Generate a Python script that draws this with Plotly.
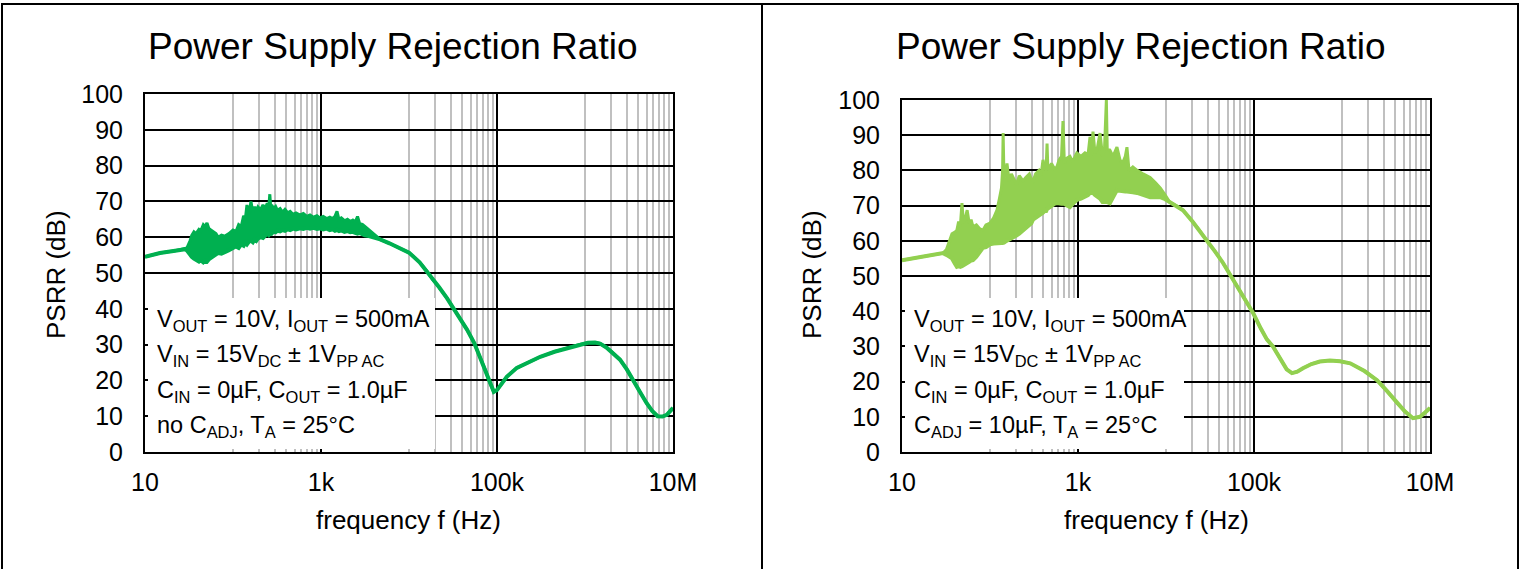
import plotly.graph_objects as go

W, H = 1521, 569

# ---- left chart (no C_ADJ): lower / upper edge of the noisy band, Hz / dB ----
freq_a = [10, 14.8, 22, 28.5, 30, 32.5, 34, 36, 38, 41, 43, 46, 48, 50.6, 53, 56, 60, 64,
          68, 74, 81, 90, 100, 108, 116, 124, 132, 138, 144, 152, 160, 168, 176, 184,
          192, 205, 219, 232, 245, 255, 262, 268, 275, 290, 305, 320, 343, 365, 390,
          420, 446, 480, 520, 577, 630, 690, 750, 820, 900, 973, 1060, 1160, 1260,
          1350, 1440, 1520, 1600, 1700, 1850, 2000, 2150, 2300, 2450, 2600, 2750,
          2950, 3150, 3500, 3900, 4700, 6000, 7900, 10000, 13200, 16000, 18500,
          22000, 27000, 36000, 45600, 55000, 64000, 74000, 83000, 92000, 100000,
          107000, 129000, 168000, 230000, 310000, 450000, 627000, 850000, 1080000,
          1300000, 1480000, 1750000, 2080000, 2500000, 3000000, 3500000, 4200000,
          5000000, 5800000, 6700000, 7600000, 8500000, 9300000, 10000000]
psrr_a_lo = [54.5, 55.6, 56.2, 56.6, 56.3, 55, 54.5, 54, 53.6, 53.2, 53.6, 53, 53.4, 53.2, 53.8, 54.2, 54.8, 55,
             55.6, 55.4, 56, 56.4, 57, 57.4, 57, 58, 57.6, 58.5, 58, 58.8, 59, 58.6, 59.4, 59,
             59.6, 60, 59.8, 60.4, 61, 60.6, 61, 61.2, 61, 61.6, 61.4, 61.8, 61.6, 62, 61.8,
             62.2, 62, 62.4, 62.2, 62.5, 62.3, 62.6, 62.4, 62.6, 62.3, 62.5, 62.2, 62.4, 62,
             62.2, 61.8, 62, 61.7, 61.9, 61.5, 61.7, 61.4, 61.5, 61.2, 61, 61.2,
             60.8, 60.5, 60.3, 60, 59.4, 58.3, 57, 55.7, 53, 50.5, 48.2,
             46, 43, 38.2, 34.2, 30.5, 26.6, 22.8, 19.3, 16.8, 17.3,
             18.2, 21, 23.5, 25.2, 26.6, 28, 29, 30, 30.5,
             30.6, 30.3, 29.2, 27.7, 25.8, 23, 20, 16.8,
             13.7, 11.5, 10, 9.9, 10.4, 11.4, 12.3]
psrr_a_hi = [54.5, 55.6, 56.2, 56.8, 57, 59, 60.5, 61.5, 61, 62.2, 61.8, 63.5, 63, 64, 62.5, 62, 61.5, 61,
             60, 60.6, 60.3, 61, 62, 61.6, 63.5, 63, 66, 65, 69, 66.5, 70, 67, 68.5, 67.5,
             68.5, 67.6, 69, 68, 69.5, 68.4, 72, 68.5, 69, 68, 68.6, 67.5, 68, 67, 67.8,
             66.8, 67.2, 66.4, 66.8, 66.2, 66.6, 65.8, 66.2, 65.6, 66, 65.4, 65.8, 65.2, 65.6,
             65.2, 65.8, 67.2, 65, 65.4, 64.6, 65, 64.4, 64.8, 64.2, 65.8, 63.8,
             63.6, 63, 62, 61, 59.4, 58.3, 57, 55.7, 53, 50.5, 48.2,
             46, 43, 38.2, 34.2, 30.5, 26.6, 22.8, 19.3, 16.8, 17.3,
             18.2, 21, 23.5, 25.2, 26.6, 28, 29, 30, 30.5,
             30.6, 30.3, 29.2, 27.7, 25.8, 23, 20, 16.8,
             13.7, 11.5, 10, 9.9, 10.4, 11.4, 12.3]

# ---- right chart (C_ADJ = 10uF) ----
freq_b = [10, 20, 29.3, 32, 35, 37, 40, 42, 44, 46, 48, 50, 52, 55, 58, 61, 64, 70, 76, 83,
          90, 100, 110, 120, 128, 135, 139, 141, 144, 150, 156, 165, 175, 182, 200, 215,
          237, 255, 280, 295, 308, 330, 360, 380, 400, 420, 435, 445, 455, 500, 540,
          575, 610, 650, 675, 700, 750, 810, 870, 970, 1080, 1200, 1300, 1370, 1420,
          1480, 1560, 1650, 1780, 1900, 2000, 2100, 2150, 2300, 2500, 2770, 3000,
          3200, 3450, 3600, 3800, 4200, 4700, 5500, 6600, 7600, 8600, 9800, 11000,
          13000, 15600, 20000, 24000, 29000, 36000, 44500, 57000, 70000, 90000,
          98000, 120000, 140000, 164000, 200000, 235000, 270000, 310000, 360000,
          450000, 560000, 730000, 950000, 1240000, 1800000, 2500000, 3200000,
          4200000, 5200000, 6400000, 7700000, 8800000, 10000000]
psrr_b_lo = [54.5, 55.7, 56.5, 56, 55.4, 55, 53.5, 52.6, 52.8, 52.6, 52.8, 53, 53.2, 53.7, 54, 54.4, 54.5, 55.5, 56.5, 58,
             58.2, 59, 59.2, 59.4, 59.4, 59.4, 59.4, 59.4, 59.5, 59.8, 60, 60.5, 60.8, 61, 61.5, 62,
             63, 63.5, 64.5, 65, 66, 66.5, 67, 67.5, 68, 68.5, 68.5, 69, 69.2, 70, 70.5,
             70.7, 70.5, 70.5, 70.5, 70.5, 70, 69.6, 70.5, 71.6, 72, 72.5, 73, 73.6, 73.6,
             73.6, 73, 72.5, 72, 71, 71, 71, 71, 70.7, 72.5, 74.4, 74.2,
             74, 74, 74, 74, 73.8, 73.6, 73, 72.4, 72.4, 72.4, 71.8, 71,
             70, 68.7, 65.5, 63, 60, 57, 53.7, 49, 45.5, 41,
             39.4, 35, 32, 30, 26.5, 23.5, 22.4, 22.8, 23.8,
             25, 25.7, 26, 25.8, 25.2, 23, 20.4, 17.5,
             13.9, 11.5, 9.6, 10, 11.2, 12.5]
psrr_b_hi = [54.5, 55.7, 56.5, 57.5, 60, 62, 62.5, 63, 65.5, 64, 70.7, 65, 66, 68.7, 65, 66, 64, 64.5, 63.5, 63,
             64.5, 65, 66.5, 68.7, 72, 75, 80, 90.6, 79, 78, 82, 77, 79, 78, 76, 78.5,
             77, 78, 79, 77.5, 77, 79, 80, 78.5, 83, 80, 81, 87.6, 80, 82, 80.5,
             81, 83, 84, 94, 82, 83.5, 84, 82.5, 85, 84, 85, 84.5, 89.5, 84,
             91, 85, 86, 90.6, 84, 86, 100, 86, 85.8, 84, 86.6, 83,
             82, 84, 86.6, 80, 81, 80, 79, 78, 76.5, 75, 73, 71,
             70, 68.7, 65.5, 63, 60, 57, 53.7, 49, 45.5, 41,
             39.4, 35, 32, 30, 26.5, 23.5, 22.4, 22.8, 23.8,
             25, 25.7, 26, 25.8, 25.2, 23, 20.4, 17.5,
             13.9, 11.5, 9.6, 10, 11.2, 12.5]

notes_a = ["V<sub>OUT</sub> = 10V, I<sub>OUT</sub> = 500mA",
           "V<sub>IN</sub> = 15V<sub>DC</sub> ± 1V<sub>PP AC</sub>",
           "C<sub>IN</sub> = 0µF, C<sub>OUT</sub> = 1.0µF",
           "no C<sub>ADJ</sub>, T<sub>A</sub> = 25°C"]
notes_b = notes_a[:3] + ["C<sub>ADJ</sub> = 10µF, T<sub>A</sub> = 25°C"]

FONT = "Liberation Sans, Arial, sans-serif"
GREEN_A = "#00b050"
GREEN_B = "#92d050"

# grey lines at 100..900, 10k..90k, 1M..9M (Excel log base-100 minor grid)
minor_vals = [m * 10 ** e for e in (2, 4, 6) for m in range(1, 10)]


def px_x(x):
    return x / W


def px_y(y):
    return 1 - y / H


fig = go.Figure()

for i, (f, lo, hi, col) in enumerate([(freq_a, psrr_a_lo, psrr_a_hi, GREEN_A),
                                      (freq_b, psrr_b_lo, psrr_b_hi, GREEN_B)]):
    ax = "x" if i == 0 else "x2"
    ay = "y" if i == 0 else "y2"
    fig.add_trace(go.Scatter(x=f, y=lo, mode="lines", line=dict(color=col, width=4),
                             xaxis=ax, yaxis=ay, showlegend=False, hoverinfo="skip"))
    fig.add_trace(go.Scatter(x=f, y=hi, mode="lines", line=dict(color=col, width=3),
                             fill="tonexty", fillcolor=col,
                             xaxis=ax, yaxis=ay, showlegend=False, hoverinfo="skip"))

xcommon = dict(
    type="log", range=[1, 7],
    tickvals=[10, 1e3, 1e5, 1e7], ticktext=["10", "1k", "100k", "10M"],
    showgrid=True, gridcolor="black", gridwidth=2,
    minor=dict(tickvals=minor_vals, showgrid=True, gridcolor="#c0c0c0", gridwidth=2),
    showline=True, linecolor="black", linewidth=2, mirror=True,
    ticks="", ticklabelstandoff=7, automargin=False,
    tickfont=dict(family=FONT, size=25, color="black"),
    zeroline=False,
)
ycommon = dict(
    range=[0, 100], dtick=10,
    showgrid=True, gridcolor="black", gridwidth=2,
    showline=True, linecolor="black", linewidth=2, mirror=True,
    ticks="", ticklabelstandoff=15, automargin=False,
    tickfont=dict(family=FONT, size=25, color="black"),
    zeroline=False,
)

fig.update_layout(
    width=W, height=H,
    margin=dict(l=0, r=0, t=0, b=0, pad=0, autoexpand=False),
    paper_bgcolor="white", plot_bgcolor="white",
    font=dict(family=FONT, color="black"),
    xaxis=dict(xcommon, domain=[px_x(145), px_x(673)], anchor="y"),
    yaxis=dict(ycommon, domain=[px_y(452), px_y(94)], anchor="x"),
    xaxis2=dict(xcommon, domain=[px_x(902), px_x(1430)], anchor="y2"),
    yaxis2=dict(ycommon, domain=[px_y(452), px_y(100)], anchor="x2"),
)

shapes = [
    # outer frame and divider
    dict(type="rect", xref="paper", yref="paper", x0=px_x(2), x1=px_x(1518),
         y0=-0.05, y1=px_y(4), line=dict(color="black", width=2)),
    dict(type="line", xref="paper", yref="paper", x0=px_x(762), x1=px_x(762),
         y0=-0.05, y1=px_y(4), line=dict(color="black", width=2)),
    # white boxes behind the condition notes
    dict(type="rect", xref="paper", yref="paper", x0=px_x(148), x1=px_x(435),
         y0=px_y(449), y1=px_y(298), fillcolor="white", line=dict(width=0), layer="above"),
    dict(type="rect", xref="paper", yref="paper", x0=px_x(905), x1=px_x(1184),
         y0=px_y(449), y1=px_y(298), fillcolor="white", line=dict(width=0), layer="above"),
]
fig.update_layout(shapes=shapes)

ann = []
for cx, ytx, nx, notes in [(392, 56, 155, notes_a), (1140, 812, 912, notes_b)]:
    ann.append(dict(text="Power Supply Rejection Ratio", x=px_x(cx), y=px_y(47),
                    xref="paper", yref="paper", showarrow=False,
                    xanchor="center", yanchor="middle",
                    font=dict(family=FONT, size=37, color="black")))
    ann.append(dict(text="PSRR (dB)", x=px_x(ytx), y=px_y(275), textangle=-90,
                    xref="paper", yref="paper", showarrow=False,
                    xanchor="center", yanchor="middle",
                    font=dict(family=FONT, size=26, color="black")))
    ann.append(dict(text="frequency f (Hz)", x=px_x(cx + 16), y=px_y(520),
                    xref="paper", yref="paper", showarrow=False,
                    xanchor="center", yanchor="middle",
                    font=dict(family=FONT, size=26, color="black")))
    for k, line in enumerate(notes):
        ann.append(dict(text=line, x=px_x(nx), y=px_y(320 + 35.5 * k),
                        xref="paper", yref="paper", showarrow=False,
                        xanchor="left", yanchor="middle",
                        font=dict(family=FONT, size=23.5, color="black")))
fig.update_layout(annotations=ann)

# page body margin would shift the figure by 8px
fig.write_html("out.html", config={"displayModeBar": False},
               post_script="document.body.style.margin = '0';")
